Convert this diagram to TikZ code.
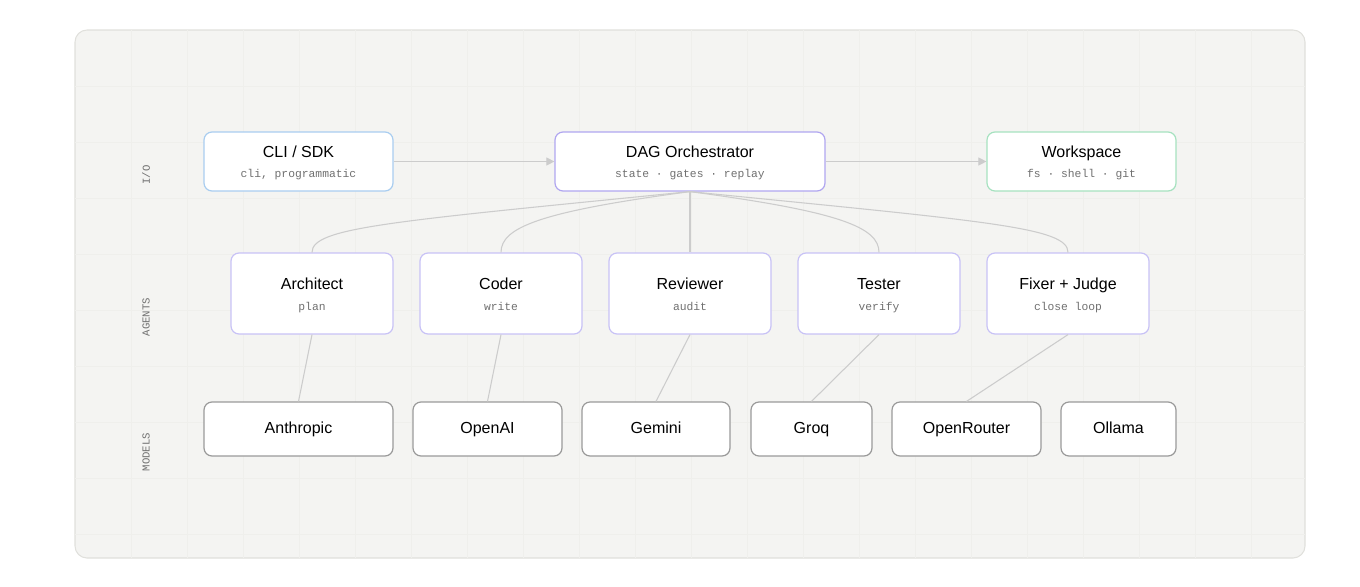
\documentclass[tikz,border=0pt]{standalone}
\usepackage{fontspec}
\setmainfont{Liberation Sans}
\newfontfamily\monofont{Liberation Mono}
\usetikzlibrary{arrows.meta}
\definecolor{panelbg}{HTML}{F4F4F2}
\definecolor{panelline}{HTML}{E0E0DC}
\definecolor{gridc}{HTML}{EFEFEC}
\definecolor{ioblue}{HTML}{A9CDF0}
\definecolor{orchpurple}{HTML}{B0A6F0}
\definecolor{wsgreen}{HTML}{A6E2C0}
\definecolor{agentc}{HTML}{C8C2F6}
\definecolor{modelc}{HTML}{9A9A9A}
\definecolor{wire}{HTML}{CCCCCC}
\definecolor{subtext}{HTML}{707070}
\tikzset{
	box/.style={draw,fill=white,rounded corners=6pt,line width=0.9pt,align=center,inner sep=0pt},
	io/.style={box,draw=ioblue,minimum width=141.75pt,minimum height=44.25pt},
	orch/.style={box,draw=orchpurple,minimum width=202.5pt,minimum height=44.25pt},
	ws/.style={box,draw=wsgreen,minimum width=141.75pt,minimum height=44.25pt},
	agent/.style={box,draw=agentc,minimum width=121.5pt,minimum height=60.75pt},
	model/.style={box,draw=modelc,minimum height=40.5pt,text height=8.6pt,text depth=2.4pt},
	title/.style={inner sep=0pt,font=\fontsize{12}{12}\selectfont,text height=8.6pt,text depth=2.4pt},
	sub/.style={inner sep=0pt,text=subtext,font=\monofont\fontsize{8.5}{8.5}\selectfont,text height=6pt,text depth=1.8pt},
	wire/.style={draw=wire,line width=0.8pt},
	lane/.style={rotate=90,text=subtext,font=\monofont\fontsize{8}{8}\selectfont},
}
% title and subtitle inside a box: #1 node, #2 title, #3 subtitle, #4 subtitle offset (px)
\newcommand{\boxtext}[4]{%
	\node[title] (#1t) at ([yshift=6.4pt]#1.center) {#2};
	\node[sub] (#1s) at ([yshift=-#4]#1.center) {#3};}
\begin{document}
\begin{tikzpicture}[x=0.75pt,y=-0.75pt,font=\fontsize{12}{12}\selectfont]
\useasboundingbox (0,0) rectangle (1360,586);
% panel and grid
\fill[panelbg,draw=panelline,line width=0.8pt,rounded corners=9pt] (75,30) rectangle (1305,558);
\begin{scope}
	\clip[rounded corners=9pt] (75,30) rectangle (1305,558);
	\foreach \x in {131,187,...,1305} \draw[gridc,line width=0.4pt] (\x,30) -- (\x,558);
	\foreach \y in {86,142,...,558} \draw[gridc,line width=0.4pt] (75,\y) -- (1305,\y);
\end{scope}
% lane labels
\node[lane] (lio) at (146,175) {I/O};
\node[lane] (lag) at (146,317) {AGENTS};
\node[lane] (lmo) at (146,452) {MODELS};
% top row
\node[io] (cli) at (298.5,161.5) {};
\node[orch] (dag) at (690,161.5) {};
\node[ws] (ws) at (1081.5,161.5) {};
\boxtext{cli}{CLI / SDK}{cli, programmatic}{10.1pt}
\boxtext{dag}{DAG Orchestrator}{state · gates · replay}{10.1pt}
\boxtext{ws}{Workspace}{fs · shell · git}{10.1pt}
% agents
\node[agent] (arch) at (312,293.5) {};
\node[agent] (coder) at (501,293.5) {};
\node[agent] (rev) at (690,293.5) {};
\node[agent] (test) at (879,293.5) {};
\node[agent] (fix) at (1068,293.5) {};
\boxtext{arch}{Architect}{plan}{10.9pt}
\boxtext{coder}{Coder}{write}{10.9pt}
\boxtext{rev}{Reviewer}{audit}{10.9pt}
\boxtext{test}{Tester}{verify}{10.9pt}
\boxtext{fix}{Fixer + Judge}{close loop}{10.9pt}
% models
\node[model,minimum width=141.75pt] (anth) at (298.5,429) {Anthropic};
\node[model,minimum width=111.75pt] (oai) at (487.5,429) {OpenAI};
\node[model,minimum width=111pt] (gem) at (656,429) {Gemini};
\node[model,minimum width=90.75pt] (groq) at (811.5,429) {Groq};
\node[model,minimum width=111.75pt] (orout) at (966.5,429) {OpenRouter};
\node[model,minimum width=86.25pt] (oll) at (1118.5,429) {Ollama};
% connectors
\draw[wire,-{Triangle[length=6pt,width=6pt]}] (cli) -- (dag);
\draw[wire,-{Triangle[length=6pt,width=6pt]}] (dag) -- (ws);
\draw[wire] (dag.south) .. controls +(-300,30) and +(0,-25) .. (arch.north);
\draw[wire] (dag.south) .. controls +(-150,20) and +(0,-25) .. (coder.north);
\draw[wire] (dag.south) -- (rev.north);
\draw[wire] (dag.south) .. controls +(150,20) and +(0,-25) .. (test.north);
\draw[wire] (dag.south) .. controls +(300,30) and +(0,-25) .. (fix.north);
\draw[wire] (arch.south) -- (anth.north);
\draw[wire] (coder.south) -- (oai.north);
\draw[wire] (rev.south) -- (gem.north);
\draw[wire] (test.south) -- (groq.north);
\draw[wire] (fix.south) -- (orout.north);
\end{tikzpicture}
\end{document}
